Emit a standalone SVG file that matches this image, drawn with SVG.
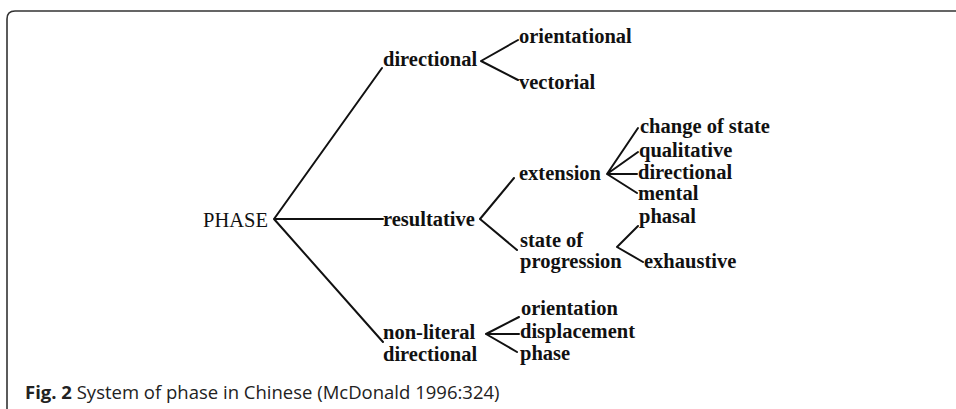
<svg xmlns="http://www.w3.org/2000/svg" width="956" height="409" viewBox="0 0 956 409">
<style>
.lbl{font-family:"Liberation Serif","Times New Roman",serif;font-size:20.5px;font-weight:bold;fill:#111}
.root{font-family:"Liberation Serif","Times New Roman",serif;font-size:20.5px;font-weight:normal;fill:#111}
.cap{font-family:"Open Sans","Liberation Sans",sans-serif;font-size:18.5px;fill:#222}
.edge{stroke:#111;stroke-width:2;fill:none;stroke-linecap:round;stroke-linejoin:round}
</style>
<rect width="956" height="409" fill="#fff"/>
<path d="M7 409 V19 Q7 11 15 11 H956" fill="none" stroke="#333" stroke-width="1.6"/>
<g id="connectors" class="edge">
<path d="M382 68 L274 219 L383 219 M274 219 L383 342"/>
<path d="M518 40 L481 61 L518 80"/>
<path d="M514 178 L480 219 L517 250"/>
<path d="M638 128 L607 174 L638 152 M607 174 L637 174 M607 174 L637 193"/>
<path d="M638 226 L617 247 L643 262"/>
<path d="M519 317 L486 334 L519 334 M486 334 L517 352"/>
</g>
<g id="n-phase"><text class="root" x="203" y="227">PHASE</text></g>
<g id="n-directional"><text class="lbl" x="383" y="66">directional</text></g>
<g id="n-orientational"><text class="lbl" x="519" y="43">orientational</text></g>
<g id="n-vectorial"><text class="lbl" x="519" y="89">vectorial</text></g>
<g id="n-resultative"><text class="lbl" x="383" y="226">resultative</text></g>
<g id="n-extension"><text class="lbl" x="519" y="180">extension</text></g>
<g id="n-change"><text class="lbl" x="640" y="133">change of state</text></g>
<g id="n-qualitative"><text class="lbl" x="639" y="157">qualitative</text></g>
<g id="n-directional2"><text class="lbl" x="638" y="179">directional</text></g>
<g id="n-mental"><text class="lbl" x="638" y="200">mental</text></g>
<g id="n-phasal"><text class="lbl" x="639" y="223">phasal</text></g>
<g id="n-state"><text class="lbl" x="520" y="247">state of</text><text class="lbl" x="520" y="268">progression</text></g>
<g id="n-exhaustive"><text class="lbl" x="644" y="268">exhaustive</text></g>
<g id="n-nonliteral"><text class="lbl" x="383" y="339">non-literal</text><text class="lbl" x="383" y="361">directional</text></g>
<g id="n-orientation"><text class="lbl" x="521" y="315">orientation</text></g>
<g id="n-displacement"><text class="lbl" x="520" y="338">displacement</text></g>
<g id="n-phase2"><text class="lbl" x="520" y="360">phase</text></g>
<g id="caption"><text class="cap" x="25" y="399"><tspan font-weight="bold">Fig. 2</tspan> System of phase in Chinese (McDonald 1996:324)</text></g>
</svg>
